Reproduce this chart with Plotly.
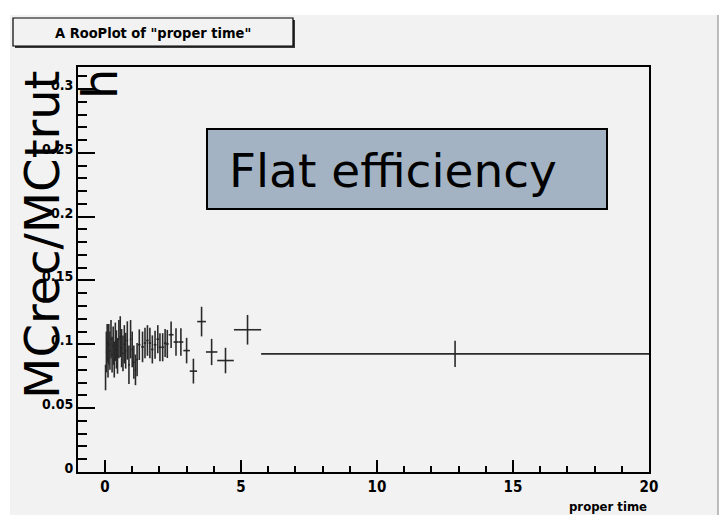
import plotly.graph_objects as go

# Efficiency ratio MCrec/MCtruth in bins of proper time
t_center = [0.02, 0.05, 0.08, 0.11, 0.14, 0.18, 0.22, 0.26, 0.30, 0.34, 0.38, 0.42,
            0.46, 0.51, 0.56, 0.61, 0.66, 0.71, 0.76, 0.82, 0.88, 0.94, 1.00, 1.06,
            1.12, 1.18, 1.26, 1.38, 1.47, 1.56, 1.65, 1.74, 1.84, 1.94, 2.02, 2.12,
            2.21, 2.29, 2.43, 2.61, 2.79, 3.00, 3.25, 3.55, 3.92, 4.43, 5.24, 12.87]
t_halfwidth = [0.015, 0.015, 0.015, 0.015, 0.018, 0.02, 0.02, 0.02, 0.02, 0.02, 0.02, 0.02,
               0.02, 0.025, 0.025, 0.025, 0.025, 0.025, 0.025, 0.03, 0.03, 0.03, 0.03, 0.03,
               0.03, 0.03, 0.045, 0.05, 0.045, 0.045, 0.045, 0.045, 0.05, 0.05, 0.045, 0.05,
               0.045, 0.05, 0.09, 0.09, 0.09, 0.12, 0.135, 0.16, 0.21, 0.305, 0.5, 7.13]
eff = [0.074, 0.094, 0.101, 0.089, 0.100, 0.095, 0.104, 0.092, 0.099, 0.088, 0.102, 0.096,
       0.091, 0.104, 0.106, 0.097, 0.093, 0.100, 0.095, 0.103, 0.084, 0.104, 0.096, 0.086,
       0.080, 0.088, 0.0997, 0.098, 0.101, 0.103, 0.101, 0.096, 0.0997, 0.104, 0.0977, 0.0977,
       0.101, 0.1003, 0.1075, 0.1018, 0.1018, 0.0951, 0.0790, 0.1178, 0.0940, 0.0873, 0.1114, 0.0925]
eff_err = [0.010, 0.016, 0.015, 0.015, 0.016, 0.015, 0.015, 0.014, 0.015, 0.014, 0.015, 0.015,
           0.014, 0.015, 0.016, 0.015, 0.014, 0.015, 0.014, 0.015, 0.015, 0.015, 0.014, 0.013,
           0.012, 0.013, 0.012, 0.012, 0.012, 0.012, 0.012, 0.011, 0.011, 0.011, 0.011, 0.011,
           0.011, 0.011, 0.0103, 0.0107, 0.0107, 0.0100, 0.0097, 0.0116, 0.0103, 0.0100, 0.0116, 0.0103]

x_range = [-0.993, 20]
y_range = [0, 0.3172]

W_FIG, H_FIG = 720, 515
L, R, T, B = 78, 71, 67, 43
PW, PH = W_FIG - L - R, H_FIG - T - B

def px(xp):
    return (xp - L) / PW

def py(yp):
    return 1 - (yp - T) / PH

NARROW = "Liberation Sans Narrow, Arial Narrow, DejaVu Sans Condensed, Liberation Sans, sans-serif"
BG = "#f2f2f2"

fig = go.Figure()
fig.add_trace(go.Scatter(
    x=t_center, y=eff, mode="markers",
    marker=dict(size=1, color="#1a1a1a"),
    error_x=dict(type="data", array=t_halfwidth, symmetric=True,
                 color="#2a2a2a", thickness=1.6, width=0),
    error_y=dict(type="data", array=eff_err, symmetric=True,
                 color="#2a2a2a", thickness=1.6, width=0),
    showlegend=False, hoverinfo="skip",
))

fig.update_layout(
    width=W_FIG, height=H_FIG, autosize=False,
    margin=dict(l=L, r=R, t=T, b=B, pad=0),
    paper_bgcolor="white", plot_bgcolor=BG,
    showlegend=False,
)

fig.update_xaxes(
    range=x_range, showgrid=False, zeroline=False,
    showline=True, linecolor="black", linewidth=2, mirror=True,
    tickmode="linear", tick0=0, dtick=5,
    ticks="inside", ticklen=12, tickwidth=2, tickcolor="black",
    tickfont=dict(family=NARROW, size=15, color="black", weight="bold"),
    minor=dict(tickmode="linear", tick0=0, dtick=1, ticks="inside", ticklen=6,
               tickwidth=1.5, tickcolor="black", showgrid=False),
    automargin=False,
)
fig.update_yaxes(
    range=y_range, showgrid=False, zeroline=False,
    showline=True, linecolor="black", linewidth=2, mirror=True,
    tickmode="linear", tick0=0, dtick=0.05,
    ticks="inside", ticklen=17, tickwidth=2, tickcolor="black",
    tickfont=dict(family=NARROW, size=14, color="black", weight="bold"),
    ticklabelshift=-4,
    minor=dict(tickmode="linear", tick0=0, dtick=0.01, ticks="inside", ticklen=9,
               tickwidth=1.5, tickcolor="black", showgrid=False),
    automargin=False,
)

shapes = [
    # canvas background
    dict(type="rect", xref="paper", yref="paper", layer="below",
         x0=px(10), x1=px(718), y0=py(15), y1=py(520),
         fillcolor=BG, line=dict(width=0)),
    dict(type="line", xref="paper", yref="paper",
         x0=px(718), x1=px(718), y0=py(15), y1=py(520),
         line=dict(color="#a8a8a8", width=1.5)),
    # title box with shadow
    dict(type="rect", xref="paper", yref="paper",
         x0=px(15), x1=px(295), y0=py(20), y1=py(48),
         fillcolor="#3a3a3a", line=dict(width=0)),
    dict(type="rect", xref="paper", yref="paper",
         x0=px(13), x1=px(293), y0=py(18), y1=py(46),
         fillcolor=BG, line=dict(color="black", width=1.2)),
    # text box
    dict(type="rect", xref="paper", yref="paper",
         x0=px(207), x1=px(607), y0=py(129), y1=py(209),
         fillcolor="#a3b3c3", line=dict(color="black", width=2)),
]
fig.update_layout(shapes=shapes)

annotations = [
    dict(text='A RooPlot of "proper time"', xref="paper", yref="paper",
         x=px(153), y=py(33), xanchor="center", yanchor="middle", showarrow=False,
         font=dict(family=NARROW, size=14.5, color="black", weight="bold")),
    dict(text="Flat efficiency", xref="paper", yref="paper",
         x=px(227), y=py(170), xanchor="left", yanchor="middle", showarrow=False,
         font=dict(family="DejaVu Sans", size=47, color="black")),
    dict(text="MCrec/MCtrut", xref="paper", yref="paper", textangle=-90,
         x=px(42), y=py(235), xanchor="center", yanchor="middle", showarrow=False,
         font=dict(family="DejaVu Sans", size=48, color="black")),
    dict(text="h", xref="paper", yref="paper", textangle=-90,
         x=px(100), y=py(84), xanchor="center", yanchor="middle", showarrow=False,
         font=dict(family="DejaVu Sans", size=48, color="black")),
    dict(text="proper time", xref="paper", yref="paper",
         x=px(649), y=py(497), xanchor="right", yanchor="top", showarrow=False,
         font=dict(family=NARROW, size=13, color="black", weight="bold")),
]
fig.update_layout(annotations=annotations)

fig.write_html("out.html")
